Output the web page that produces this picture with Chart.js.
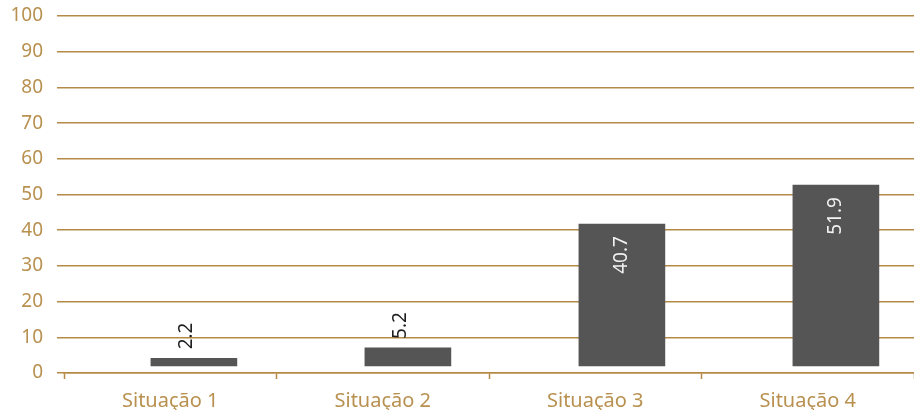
<!DOCTYPE html>
<html>
<head>
<meta charset="utf-8">
<script src="https://cdn.jsdelivr.net/npm/chart.js@4/dist/chart.umd.min.js"></script>
<style>
  html, body { margin: 0; padding: 0; background: #fff; }
  #wrap { width: 914px; height: 410px; }
</style>
</head>
<body>
<div id="wrap"><canvas id="chart" width="914" height="410"></canvas></div>
<script>
// ----------- DATA -----------
const situations = ['Situação 1', 'Situação 2', 'Situação 3', 'Situação 4'];
const values = [2.2, 5.2, 40.7, 51.9];
const yTicks = [0, 10, 20, 30, 40, 50, 60, 70, 80, 90, 100];

const gold = '#b58a47';
const goldText = '#b8904f';
const barColor = '#555555';
const fontFamily = "'Noto Sans', 'Open Sans', sans-serif";

// ----------- VALUE LABELS (rotated) -----------
const rotatedLabels = {
  id: 'rotatedLabels',
  afterDatasetsDraw(chart) {
    const ctx = chart.ctx;
    const meta = chart.getDatasetMeta(0);
    meta.data.forEach((bar, i) => {
      const v = values[i];
      const inside = v > 20;
      ctx.save();
      ctx.font = '19px ' + fontFamily;
      ctx.textBaseline = 'middle';
      if (inside) {
        ctx.translate(bar.x, bar.y + 12);
        ctx.rotate(-Math.PI / 2);
        ctx.textAlign = 'right';
        ctx.fillStyle = '#f2f2f2';
      } else {
        ctx.translate(bar.x - 7, bar.y - 9);
        ctx.rotate(-Math.PI / 2);
        ctx.textAlign = 'left';
        ctx.fillStyle = '#1e1e1e';
      }
      ctx.fillText(v.toFixed(1), 0, 0);
      ctx.restore();
    });
  }
};

// ----------- CHART -----------
new Chart(document.getElementById('chart').getContext('2d'), {
  type: 'bar',
  data: {
    labels: situations,
    datasets: [{
      data: values.map((v, i) => ({ x: i, y: v })),
      backgroundColor: barColor,
      borderWidth: 0,
      barThickness: 86,
      xAxisID: 'xBar',
      yAxisID: 'yBar'
    }]
  },
  options: {
    responsive: false,
    animation: false,
    layout: { padding: { top: 16, left: 0, right: 0, bottom: 0 } },
    plugins: {
      legend: { display: false },
      tooltip: { enabled: false }
    },
    scales: {
      x: {
        type: 'category',
        labels: situations,
        offset: true,
        border: { display: true, color: gold, width: 1.5 },
        grid: {
          offset: true,
          drawOnChartArea: false,
          drawTicks: true,
          tickLength: 6,
          tickColor: gold,
          tickWidth: 1.5
        },
        ticks: {
          color: goldText,
          font: { family: fontFamily, size: 20 },
          padding: 10,
          maxRotation: 0
        },
        afterFit(scale) { scale.height = 37; }
      },
      y: {
        type: 'linear',
        min: 0,
        max: 100,
        afterBuildTicks(scale) { scale.ticks = yTicks.map(v => ({ value: v })); },
        border: { display: false },
        grid: {
          color: gold,
          lineWidth: 1.5,
          drawTicks: true,
          tickLength: 7,
          tickColor: gold
        },
        ticks: {
          color: goldText,
          font: { family: fontFamily, size: 19 },
          padding: 14
        },
        afterFit(scale) {
          scale.width = 64;
          scale.paddingTop = 0;
          scale.paddingBottom = 0;
        }
      },
      // bar placement axes (not drawn)
      xBar: {
        type: 'linear',
        display: false,
        offset: false,
        min: -0.607,
        max: 3.365
      },
      yBar: {
        type: 'linear',
        display: false,
        min: -2.0,
        max: 100.4
      }
    }
  },
  plugins: [rotatedLabels]
});
</script>
</body>
</html>
